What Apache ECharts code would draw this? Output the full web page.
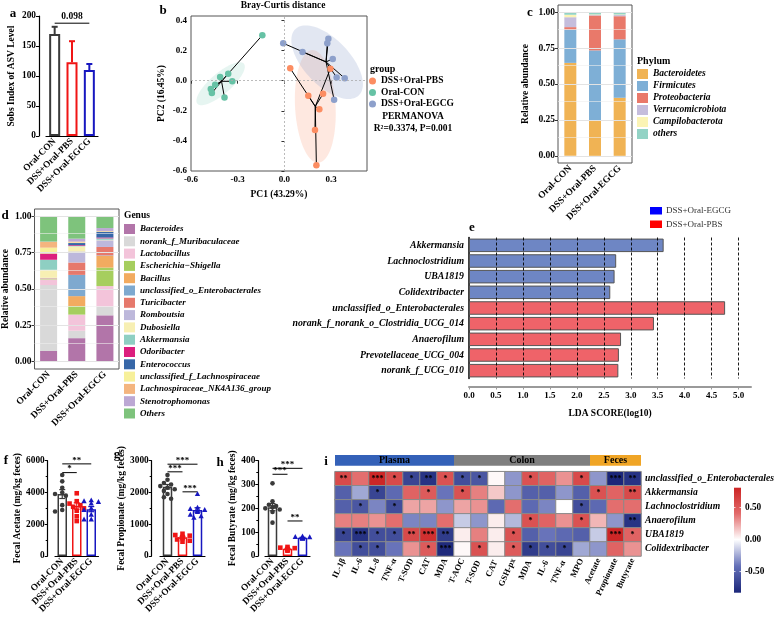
<!DOCTYPE html>
<html><head><meta charset="utf-8">
<script src="https://cdn.jsdelivr.net/npm/echarts@6.0.0/dist/echarts.min.js"></script>
<style>html,body{margin:0;padding:0;background:#fff;}#chart{width:780px;height:622px;}</style>
</head><body><div id="chart"></div>
<script>
// ================= DATA =================
const groupNames = ['Oral-CON','DSS+Oral-PBS','DSS+Oral-EGCG'];
// (a) Sobs index
const sobsMean = [170, 123, 110];
const sobsSem = [12, 35, 10];
const sobsSig = [[0, 2, 188, '0.098']];
// (b) PCoA
const pcoaPBS = [[0.037,0.082],[0.295,0.080],[0.153,-0.100],[0.248,-0.087],[0.224,-0.189],[0.196,-0.327],[0.205,-0.562]];
const pcoaCON = [[-0.142,0.302],[-0.413,0.025],[-0.361,0.047],[-0.335,-0.004],[-0.445,-0.027],[-0.473,-0.055],[-0.466,-0.082],[-0.385,-0.111]];
const pcoaEGCG = [[-0.008,0.249],[0.116,0.191],[0.282,0.278],[0.275,0.249],[0.310,0.145],[0.335,0.022],[0.387,0.016],[0.319,-0.127]];
const pcoaCentroids = [[0.198,-0.171],[-0.404,-0.004],[0.267,0.125]];
const ellipseCenter = [[0.198,-0.171],[-0.41,-0.02],[0.274,0.123]];
const ellipseAxes = [[0.375,0.13],[0.20,0.068],[0.30,0.15]];
const ellipseAngle = [93, 42, -48];
const pcoaXTicks = [-0.6,-0.3,0,0.3];
const pcoaYTicks = [-0.6,-0.4,-0.2,0,0.2,0.4];
// (c) Phylum
const phylumNames = ['Bacteroidetes','Firmicutes','Proteobacteria','Verrucomicrobiota','Campilobacterota','others'];
const phylumBacteroidetes = [0.647, 0.249, 0.404];
const phylumFirmicutes = [0.231, 0.485, 0.407];
const phylumProteobacteria = [0.018, 0.243, 0.161];
const phylumVerruco = [0.069, 0.003, 0.008];
const phylumCampilo = [0.017, 0.004, 0.004];
const phylumOthers = [0.018, 0.016, 0.016];
const abundTicks = [0, 0.25, 0.5, 0.75, 1];
const abundGrid = [0, 0.125, 0.25, 0.375, 0.5, 0.625, 0.75, 0.875, 1];
// (d) Genus
const genusNames = ['Bacteroides','norank_f_Muribaculaceae','Lactobacillus','Escherichia\u2212Shigella','Bacillus','unclassified_o_Enterobacterales','Turicibacter','Romboutsia','Dubosiella','Akkermansia','Odoribacter','Enterococcus','unclassified_f_Lachnospiraceae','Lachnospiraceae_NK4A136_group','Stenotrophomonas','Others'];
const gBacteroides = [0.074, 0.162, 0.319];
const gMuribaculaceae = [0.453, 0.051, 0.060];
const gLactobacillus = [0.039, 0.111, 0.141];
const gEscherichia = [0.003, 0.058, 0.127];
const gBacillus = [0.003, 0.069, 0.081];
const gEnterobacterales = [0.001, 0.146, 0.003];
const gTuricibacter = [0.001, 0.085, 0.058];
const gRomboutsia = [0.003, 0.076, 0.046];
const gDubosiella = [0.055, 0.035, 0.003];
const gAkkermansia = [0.069, 0.003, 0.010];
const gOdoribacter = [0.042, 0.005, 0.006];
const gEnterococcus = [0.001, 0.015, 0.039];
const gLachnoUncl = [0.040, 0.005, 0.003];
const gNK4A136 = [0.040, 0.005, 0.003];
const gStenotrophomonas = [0.002, 0.020, 0.020];
const gOthers = [0.174, 0.155, 0.081];
// (e) LEfSe
const lefseTaxa = ['Akkermansia','Lachnoclostridium','UBA1819','Colidextribacter','unclassified_o_Enterobacterales','norank_f_norank_o_Clostridia_UCG_014','Anaerofilum','Prevotellaceae_UCG_004','norank_f_UCG_010'];
const lefseScore = [3.61, 2.73, 2.70, 2.62, 4.75, 3.43, 2.82, 2.78, 2.77];
const lefseGroup = ['EGCG','EGCG','EGCG','EGCG','PBS','PBS','PBS','PBS','PBS'];
const lefseTicks = [0,0.5,1,1.5,2,2.5,3,3.5,4,4.5,5];
// (f) acetate
const acetateCON = [5100,4700,4300,4000,3900,3800,3200,2900,2800];
const acetatePBS = [3950,3450,3300,3200,3100,3000,2850,2500,2200];
const acetateEGCG = [3500,3450,3400,3300,3000,2900,2600,2300,2300];
const acetateMean = [3900, 3150, 2950];
const acetateSem = [280, 200, 160];
const acetateSig = [[0,1,5250,'*'],[0,2,5800,'**']];
// (g) propionate
const propCON = [2550,2400,2300,2250,2200,2150,2100,2050,1950,1850,1800];
const propPBS = [700,660,640,600,580,560,520,480,450];
const propEGCG = [1950,1520,1480,1450,1420,1380,1300,1250,1200];
const propMean = [2180, 590, 1450];
const propSem = [70, 30, 70];
const propSig = [[0,1,2650,'***'],[0,2,2890,'***'],[1,2,2020,'***']];
// (h) butyrate
const butCON = [305,230,215,210,205,200,195,185,140];
const butPBS = [38,35,33,30,28,26,25,22];
const butEGCG = [82,80,79,78,76,75,73,72];
const butMean = [205, 30, 77];
const butSem = [15, 2, 1.5];
const butSig = [[0,1,343,'***'],[0,2,368,'***'],[1,2,147,'**']];
// (i) correlation heatmap
const heatCols = ['IL-1\u03b2','IL-6','IL-8','TNF-\u03b1','T-SOD','CAT','MDA','T-AOC','T-SOD ','CAT ','GSH-px','MDA ','IL-6 ','TNF-\u03b1 ','MPO','Acetate','Propionate','Butyrate'];
const heatRows = ['unclassified_o_Enterobacterales','Akkermansia','Lachnoclostridium','Anaerofilum','UBA1819','Colidextribacter'];
const heatValues = [
 [0.6,0.4,0.8,0.6,-0.65,-0.75,0.55,-0.6,-0.55,0.02,-0.3,0.55,0.45,0.3,0.6,-0.3,-0.85,-0.75],
 [-0.5,-0.25,-0.65,-0.45,0.45,0.5,-0.4,0.55,0.35,0.15,-0.3,-0.5,-0.5,-0.3,-0.5,0.55,0.45,0.6],
 [-0.5,-0.55,-0.35,-0.6,0.25,0.25,-0.3,0.25,0.3,-0.45,0.4,-0.45,-0.35,0.0,-0.6,-0.45,0.4,0.4],
 [0.35,0.35,0.3,0.4,-0.35,-0.35,0.4,-0.15,-0.3,0.05,-0.2,0.55,0.45,0.3,0.55,0.2,-0.3,-0.75],
 [-0.65,-0.75,-0.6,-0.6,0.6,0.75,-0.7,0.05,0.35,0.05,0.55,-0.5,-0.4,-0.45,-0.5,-0.15,0.8,0.45],
 [-0.4,-0.6,-0.6,-0.4,0.3,0.5,-0.8,0.02,0.55,0.05,0.5,-0.7,-0.6,-0.65,-0.25,-0.3,0.45,0.3]
];
const heatStars = [
 ['**','','***','*','*','**','*','*','*','','','*','','','*','','***','**'],
 ['','','*','','','*','','*','','','','','','','','*','','**'],
 ['','*','','*','','','','','','','','','','','*','','',''],
 ['','','','','','','','','','','','*','','','*','','','**'],
 ['*','***','*','*','**','***','**','','','','*','','','','','','***','*'],
 ['','*','*','','','*','***','','*','','*','*','*','*','','','','']
];
const headerNames = ['Plasma','Colon','Feces'];
const headerSpan = [7, 8, 3];
const colorbarTicks = [-0.5, 0, 0.5];

// ================= STYLE =================
const FF = '"Liberation Serif","Times New Roman",serif';
function T(size, extra){ return Object.assign({fontFamily:FF, fontWeight:'bold', fontSize:size, color:'#000'}, extra||{}); }
const grpColor = ['#3a3a3a', '#F01515', '#1717C0'];
const grpShape = ['circle', 'rect', 'triangle'];
const pcoaColors = ['#FC8D62', '#66C2A5', '#8DA0CB'];
const ellipseFill = ['rgba(252,141,98,0.20)', 'rgba(102,194,165,0.16)', 'rgba(141,160,203,0.25)'];
const phylumColors = ['#F0B354','#7EAFD6','#E9796A','#C5BDDC','#FBF4B5','#93D3C5'];
const genusColors = ['#B275A9','#D9D9D9','#F3C4DA','#A6CE5E','#F2AB60','#7EA9CF','#E6796C','#BDB8DB','#F7EFB3','#8ECFC2','#DC1F7E','#3767A8','#F7F09A','#F4B57F','#BCA8D4','#7EC37C'];
const heatColors = ['#1b2679','#6470b8','#ffffff','#e26a6a','#cc2424'];
const headerColors = ['#3461B8','#7f7f7f','#F0A526'];

// ================= GRIDS =================
const grids = [
 {left:46, top:16, width:52, height:120},                                      //0 a
 {left:191, top:16, width:176, height:155, show:true, borderColor:'#555', borderWidth:1}, //1 b
 {left:558, top:5, width:74, height:158, show:true, borderColor:'#555', borderWidth:1},   //2 c
 {left:32, top:209, width:87, height:160, show:true, borderColor:'#555', borderWidth:1},  //3 d
 {left:469, top:237.5, width:282, height:141},                                  //4 e
 {left:55, top:460.7, width:43.5, height:95.3},                                 //5 f
 {left:160, top:460.7, width:45, height:95.3},                                  //6 g
 {left:265, top:460.7, width:45, height:95.3},                                  //7 h
 {left:335, top:471.7, width:306, height:84.3},                                 //8 i heat
 {left:335, top:455, width:306, height:10.7},                                   //9 i header
 {left:734, top:487.7, width:7, height:105}                                     //10 colorbar
];

function prismX(gi){
  return {type:'category', gridIndex:gi, data:groupNames,
    axisLine:{lineStyle:{color:'#000', width:1.2}},
    axisTick:{alignWithLabel:true, length:3, lineStyle:{color:'#000'}},
    axisLabel:Object.assign({interval:0, rotate:45, margin:4}, T(9.3))};
}
function prismY(gi, max, interval, name, nameGap, offset, minor){
  return {type:'value', gridIndex:gi, min:0, max, interval, offset, name, nameLocation:'middle', nameGap,
    nameTextStyle:T(9.5),
    axisLine:{show:true, lineStyle:{color:'#000', width:1.2}},
    axisTick:{show:true, length:3, lineStyle:{color:'#000'}},
    minorTick:{show:minor, splitNumber:2, length:2, lineStyle:{color:'#000'}},
    axisLabel:Object.assign({margin:3, formatter:v=>String(v)}, T(9.3)), splitLine:{show:false}};
}
function ggX(gi){
  return {type:'category', gridIndex:gi, data:groupNames,
    axisLine:{show:false}, axisTick:{alignWithLabel:true, length:3, lineStyle:{color:'#333'}},
    axisLabel:Object.assign({interval:0, rotate:45, margin:4}, T(9.5))};
}
function ggY(gi, nameGap){
  return {type:'value', gridIndex:gi, min:-0.05, max:1.05, name:'Relative abundance', nameLocation:'middle', nameGap,
    nameTextStyle:T(9.5), axisLine:{show:false},
    axisTick:{show:true, length:3, customValues:abundTicks, lineStyle:{color:'#333'}},
    axisLabel:Object.assign({margin:3, customValues:abundTicks, formatter:v=>v.toFixed(2)}, T(9.5)),
    splitLine:{show:false}};
}

const xAxes = [
  prismX(0),
  {type:'value', gridIndex:1, min:-0.6, max:0.53, name:'PC1 (43.29%)', nameLocation:'middle', nameGap:19, nameTextStyle:T(9.5),
    axisLine:{show:false}, axisTick:{show:true, length:3, customValues:pcoaXTicks, lineStyle:{color:'#333'}},
    axisLabel:Object.assign({margin:4, customValues:pcoaXTicks, formatter:v=>v.toFixed(1)}, T(9)), splitLine:{show:false}},
  ggX(2),
  ggX(3),
  {type:'value', gridIndex:4, min:0, max:5.23, offset:8, name:'LDA SCORE(log10)', nameLocation:'middle', nameGap:22, nameTextStyle:T(9.5),
    axisLine:{show:true, lineStyle:{color:'#9a9a9a', width:2}},
    axisTick:{show:true, length:3, customValues:lefseTicks, lineStyle:{color:'#9a9a9a'}},
    axisLabel:Object.assign({margin:5, customValues:lefseTicks, formatter:v=>v.toFixed(1)}, T(9)), splitLine:{show:false}},
  prismX(5), prismX(6), prismX(7),
  {type:'category', gridIndex:8, data:heatCols, axisLine:{show:false}, axisTick:{show:false},
    axisLabel:Object.assign({interval:0, rotate:65, margin:3}, T(8.5)), splitArea:{show:false}},
  {type:'value', gridIndex:9, min:0, max:18, show:false},
  {type:'value', gridIndex:10, min:0, max:1, show:false}
];
const yAxes = [
  prismY(0, 200, 50, 'Sobs Index of ASV Level', 22, 7, false),
  {type:'value', gridIndex:1, min:-0.6, max:0.43, name:'PC2 (16.45%)', nameLocation:'middle', nameGap:24, nameTextStyle:T(9.5),
    axisLine:{show:false}, axisTick:{show:true, length:3, customValues:pcoaYTicks, lineStyle:{color:'#333'}},
    axisLabel:Object.assign({margin:4, customValues:pcoaYTicks, formatter:v=>v.toFixed(1)}, T(9)), splitLine:{show:false}},
  ggY(2, 27),
  ggY(3, 20),
  {type:'category', gridIndex:4, data:lefseTaxa, inverse:true,
    axisLine:{show:true, lineStyle:{color:'#000', width:1.5}}, axisTick:{show:false},
    axisLabel:Object.assign({margin:5, interval:0}, T(9.8, {fontStyle:'italic'}))},
  prismY(5, 6000, 2000, 'Fecal Acetate (mg/kg feces)', 24, 7.3, true),
  prismY(6, 3000, 1000, 'Fecal Propionate (mg/kg feces)', 19, 8.3, true),
  prismY(7, 400, 100, 'Fecal Butyrate (mg/kg feces)', 15, 6.7, true),
  {type:'category', gridIndex:8, data:heatRows, inverse:true, position:'right',
    axisLine:{show:false}, axisTick:{show:false},
    axisLabel:Object.assign({margin:4, interval:0}, T(9.6, {fontStyle:'italic'}))},
  {type:'value', gridIndex:9, min:0, max:1, show:false},
  {type:'value', gridIndex:10, min:-0.83, max:0.81, position:'right', axisLine:{show:false}, axisTick:{show:false},
    splitLine:{show:false},
    axisLabel:Object.assign({margin:4, customValues:colorbarTicks, formatter:v=>v.toFixed(2)}, T(9.3))}
];

// ================= SERIES =================
const series = [];

function errorSeries(gi, means, sems, upperOnly, lw){
  return {type:'custom', xAxisIndex:gi, yAxisIndex:gi, z:4, silent:true,
    data: means.map((m,i)=>[i, m, sems[i]]),
    renderItem(params, api){
      const i = api.value(0), m = api.value(1), s = api.value(2);
      const c = grpColor[params.dataIndex];
      const top = api.coord([i, m+s]), bot = api.coord([i, upperOnly ? m : m-s]);
      const w = 3;
      const ch = [
        {type:'line', shape:{x1:top[0], y1:top[1], x2:bot[0], y2:bot[1]}, style:{stroke:c, lineWidth:lw}},
        {type:'line', shape:{x1:top[0]-w, y1:top[1], x2:top[0]+w, y2:top[1]}, style:{stroke:c, lineWidth:lw}}
      ];
      if(!upperOnly) ch.push({type:'line', shape:{x1:bot[0]-w, y1:bot[1], x2:bot[0]+w, y2:bot[1]}, style:{stroke:c, lineWidth:lw}});
      return {type:'group', children:ch};
    }};
}
function sigSeries(gi, sig, size){
  return {type:'custom', xAxisIndex:gi, yAxisIndex:gi, z:4, silent:true,
    data: sig.map(s=>[s[0], s[2]]),
    renderItem(params, api){
      const s = sig[params.dataIndex];
      const p1 = api.coord([s[0], s[2]]), p2 = api.coord([s[1], s[2]]);
      const star = s[3].indexOf('*') >= 0;
      return {type:'group', children:[
        {type:'line', shape:{x1:p1[0], y1:p1[1], x2:p2[0], y2:p2[1]}, style:{stroke:'#000', lineWidth:1}},
        {type:'text', x:(p1[0]+p2[0])/2, y: star ? p1[1]+1 : p1[1]-1.5,
          style:{text:s[3], align:'center', verticalAlign:'bottom', font:`bold ${size}px ${FF}`, fill:'#000'}}
      ]};
    }};
}
function markShape(shape, x, y, r, color){
  if(shape==='circle') return {type:'circle', shape:{cx:x, cy:y, r:r}, style:{fill:color}};
  if(shape==='rect') return {type:'rect', shape:{x:x-r, y:y-r, width:2*r, height:2*r}, style:{fill:color}};
  return {type:'polygon', shape:{points:[[x, y-r*1.25],[x-r*1.15, y+r*0.85],[x+r*1.15, y+r*0.85]]}, style:{fill:color}};
}
function swarmSeries(gi, cat, vals){
  return {type:'custom', xAxisIndex:gi, yAxisIndex:gi, z:5, silent:true,
    data:[[cat, vals[0]]],
    renderItem(params, api){
      const cx = api.coord([cat, 0])[0];
      const r = 2.3, step = 3.6;
      const placed = [], ch = [];
      vals.slice().sort((a,b)=>b-a).forEach(v=>{
        const y = api.coord([cat, v])[1];
        const offs = [0,-step,step,-2*step,2*step,-0.5*step,0.5*step,-1.5*step,1.5*step];
        let x = cx;
        for(const o of offs){ const xx = cx+o; if(placed.every(p=>Math.hypot(p[0]-xx, p[1]-y) >= 2*r)){ x = xx; break; } }
        placed.push([x, y]);
        ch.push(markShape(grpShape[cat], x, y, r, grpColor[cat]));
      });
      return {type:'group', children:ch};
    }};
}
function prismBars(gi, means, bw, lw){
  return {type:'bar', xAxisIndex:gi, yAxisIndex:gi, barWidth:bw, z:2, silent:true,
    data: means.map((m,i)=>({value:m, itemStyle:{color:'#fff', borderColor:grpColor[i], borderWidth:lw}}))};
}

// a
series.push(prismBars(0, sobsMean, 11, 2));
series.push(errorSeries(0, sobsMean, sobsSem, true, 2));
series.push(sigSeries(0, sobsSig, 9.5));

// b
series.push({type:'line', xAxisIndex:1, yAxisIndex:1, data:[], silent:true, z:0,
  markLine:{silent:true, symbol:['none','none'], label:{show:false}, animation:false,
    lineStyle:{color:'#aaa', type:[2,2], width:0.8}, data:[{xAxis:0},{yAxis:0}]}});
ellipseCenter.forEach((c, k)=>{
  series.push({type:'custom', xAxisIndex:1, yAxisIndex:1, z:1, silent:true, clip:true, data:[c],
    renderItem(params, api){
      const ax = ellipseAxes[k], ang = ellipseAngle[k]*Math.PI/180, pts = [];
      for(let j=0;j<=90;j++){
        const t = j/90*2*Math.PI, ex = ax[0]*Math.cos(t), ey = ax[1]*Math.sin(t);
        pts.push(api.coord([c[0]+ex*Math.cos(ang)-ey*Math.sin(ang), c[1]+ex*Math.sin(ang)+ey*Math.cos(ang)]));
      }
      return {type:'polygon', shape:{points:pts}, style:{fill:ellipseFill[k]}};
    }});
});
const pcoaSets = [pcoaPBS, pcoaCON, pcoaEGCG];
const pcoaNames = ['DSS+Oral-PBS','Oral-CON','DSS+Oral-EGCG'];
pcoaSets.forEach((pts, k)=>{
  series.push({type:'custom', xAxisIndex:1, yAxisIndex:1, z:2, silent:true, data:pts,
    renderItem(params, api){
      const p = api.coord([api.value(0), api.value(1)]), c = api.coord(pcoaCentroids[k]);
      return {type:'line', shape:{x1:c[0], y1:c[1], x2:p[0], y2:p[1]}, style:{stroke:'#000', lineWidth:1}};
    }});
});
pcoaSets.forEach((pts, k)=>{
  series.push({type:'scatter', name:pcoaNames[k], xAxisIndex:1, yAxisIndex:1, z:3, data:pts,
    symbolSize:6.5, itemStyle:{color:pcoaColors[k], opacity:1}});
});

// c
series.push({type:'line', xAxisIndex:2, yAxisIndex:2, data:[], silent:true, z:0,
  markLine:{silent:true, symbol:['none','none'], label:{show:false}, animation:false,
    data: abundGrid.map((v,i)=>({yAxis:v, lineStyle:{color: i%2===0 ? '#e3e3e3' : '#efefef', width: i%2===0 ? 1 : 0.6, type:'solid'}}))}});
const phylumData = [phylumBacteroidetes, phylumFirmicutes, phylumProteobacteria, phylumVerruco, phylumCampilo, phylumOthers];
phylumNames.forEach((n, k)=>{
  series.push({type:'bar', name:n, stack:'phylum', xAxisIndex:2, yAxisIndex:2, barWidth:12, z:2,
    data:phylumData[k], itemStyle:{color:phylumColors[k]}});
});

// d
series.push({type:'line', xAxisIndex:3, yAxisIndex:3, data:[], silent:true, z:0,
  markLine:{silent:true, symbol:['none','none'], label:{show:false}, animation:false,
    data: abundGrid.map((v,i)=>({yAxis:v, lineStyle:{color: i%2===0 ? '#e3e3e3' : '#efefef', width: i%2===0 ? 1 : 0.6, type:'solid'}}))}});
const genusData = [gBacteroides,gMuribaculaceae,gLactobacillus,gEscherichia,gBacillus,gEnterobacterales,gTuricibacter,gRomboutsia,gDubosiella,gAkkermansia,gOdoribacter,gEnterococcus,gLachnoUncl,gNK4A136,gStenotrophomonas,gOthers];
genusNames.forEach((n, k)=>{
  series.push({type:'bar', name:n, stack:'genus', xAxisIndex:3, yAxisIndex:3, barWidth:17, z:2,
    data:genusData[k], itemStyle:{color:genusColors[k]}});
});

// e
series.push({type:'line', xAxisIndex:4, yAxisIndex:4, data:[], silent:true, z:0,
  markLine:{silent:true, symbol:['none','none'], label:{show:false}, animation:false,
    lineStyle:{color:'#000', type:[3,2], width:0.9}, data: lefseTicks.filter(v=>v>0).map(v=>({xAxis:v}))}});
series.push({type:'bar', xAxisIndex:4, yAxisIndex:4, barWidth:13.5, z:2, silent:true,
  data: lefseScore.map((v,i)=>({value:v, itemStyle:{color: lefseGroup[i]==='EGCG' ? '#6E86C4' : '#EF6369', borderColor:'#555', borderWidth:1}}))});

// f, g, h
const fgh = [
  {gi:5, mean:acetateMean, sem:acetateSem, pts:[acetateCON,acetatePBS,acetateEGCG], sig:acetateSig},
  {gi:6, mean:propMean, sem:propSem, pts:[propCON,propPBS,propEGCG], sig:propSig},
  {gi:7, mean:butMean, sem:butSem, pts:[butCON,butPBS,butEGCG], sig:butSig}
];
fgh.forEach(p=>{
  series.push(prismBars(p.gi, p.mean, 9.5, 1.5));
  p.pts.forEach((v, k)=> series.push(swarmSeries(p.gi, k, v)));
  series.push(errorSeries(p.gi, p.mean, p.sem, false, 1.2));
  series.push(sigSeries(p.gi, p.sig, 9));
});

// i heatmap
const heatData = [];
heatValues.forEach((row, r)=> row.forEach((v, c)=> heatData.push([c, r, v])));
const heatIndex = series.length;
series.push({type:'heatmap', xAxisIndex:8, yAxisIndex:8, data:heatData, silent:true,
  itemStyle:{borderColor:'#8a8a8a', borderWidth:1},
  label:{show:true, formatter:p=>heatStars[p.data[1]][p.data[0]], fontFamily:FF, fontWeight:'bold', fontSize:8, color:'#000'}});
series.push({type:'custom', xAxisIndex:9, yAxisIndex:9, silent:true, data:headerNames.map((n,i)=>[i, 0]),
  renderItem(params, api){
    const i = params.dataIndex;
    const s = headerSpan.slice(0, i).reduce((a,b)=>a+b, 0), e = s + headerSpan[i];
    const p0 = api.coord([s, 1]), p1 = api.coord([e, 0]);
    return {type:'group', children:[
      {type:'rect', shape:{x:p0[0], y:p0[1], width:p1[0]-p0[0], height:p1[1]-p0[1]}, style:{fill:headerColors[i]}},
      {type:'text', x:(p0[0]+p1[0])/2, y:(p0[1]+p1[1])/2+0.5, style:{text:headerNames[i], align:'center', verticalAlign:'middle', font:`bold 10px ${FF}`, fill:'#000'}}
    ]};
  }});
series.push({type:'custom', xAxisIndex:10, yAxisIndex:10, silent:true, data:[[0, 0]],
  renderItem(params, api){
    const p0 = api.coord([0, 0.81]), p1 = api.coord([1, -0.83]);
    const zeroOff = 0.81/1.64;
    const fill = new echarts.graphic.LinearGradient(0, 0, 0, 1, [
      {offset:0, color:heatColors[4]}, {offset:zeroOff/2, color:heatColors[3]}, {offset:zeroOff, color:heatColors[2]},
      {offset:(1+zeroOff)/2, color:heatColors[1]}, {offset:1, color:heatColors[0]}]);
    const ch = [{type:'rect', shape:{x:p0[0], y:p0[1], width:p1[0]-p0[0], height:p1[1]-p0[1]}, style:{fill}}];
    colorbarTicks.forEach(v=>{ const y = api.coord([0, v])[1];
      ch.push({type:'line', shape:{x1:p0[0], y1:y, x2:p0[0]+1.5, y2:y}, style:{stroke:'#fff', lineWidth:0.8}});
      ch.push({type:'line', shape:{x1:p1[0]-1.5, y1:y, x2:p1[0], y2:y}, style:{stroke:'#fff', lineWidth:0.8}}); });
    return {type:'group', children:ch};
  }});

// ================= GRAPHIC TEXT =================
const graphic = [];
function txt(x, y, s, size, extra){
  graphic.push({type:'text', x, y, silent:true, style:Object.assign({text:s, font:`bold ${size}px ${FF}`, fill:'#000', align:'left', verticalAlign:'middle'}, extra||{})});
}
txt(13, 14, 'a', 13, {align:'center'});
txt(163, 11, 'b', 13, {align:'center'});
txt(530, 13, 'c', 13, {align:'center'});
txt(5, 216, 'd', 13, {align:'center'});
txt(472, 228, 'e', 13, {align:'center'});
txt(6, 461, 'f', 13, {align:'center'});
txt(117, 455, 'g', 13, {align:'center'});
txt(220, 463, 'h', 13, {align:'center'});
txt(326, 462, 'i', 13, {align:'center'});
txt(283, 6, 'Bray-Curtis distance', 9.5, {align:'center'});
txt(370, 69, 'group', 10);
txt(413, 117, 'PERMANOVA', 9.5, {align:'center'});
txt(413, 128.5, 'R\u00b2=0.3374, P=0.001', 9.5, {align:'center'});
txt(637, 61, 'Phylum', 10);
txt(124, 216, 'Genus', 9.5);
graphic.push({type:'rect', silent:true, shape:{x:650, y:207, width:12, height:7.5}, style:{fill:'#0000FF'}});
graphic.push({type:'rect', silent:true, shape:{x:650, y:220.5, width:12, height:7.5}, style:{fill:'#FF0000'}});
txt(666, 210.7, 'DSS+Oral-EGCG', 9, {font:`${9}px ${FF}`, fill:'#333'});
txt(666, 224.3, 'DSS+Oral-PBS', 9, {font:`${9}px ${FF}`, fill:'#333'});

// ================= OPTION =================
const option = {
  animation:false,
  backgroundColor:'#fff',
  textStyle:{fontFamily:FF},
  grid:grids, xAxis:xAxes, yAxis:yAxes, series, graphic,
  visualMap:{type:'continuous', show:false, min:-0.82, max:0.82, seriesIndex:heatIndex, dimension:2, inRange:{color:heatColors}},
  legend:[
    {data:pcoaNames, orient:'vertical', left:369, top:76, padding:0, icon:'circle', itemWidth:7, itemHeight:7, itemGap:1.5, selectedMode:false,
      textStyle:T(9.5, {lineHeight:10})},
    {data:phylumNames, orient:'vertical', left:637, top:69, padding:0, icon:'rect', itemWidth:11, itemHeight:10, itemGap:2, selectedMode:false,
      textStyle:T(9.5, {fontStyle:'italic', lineHeight:10})},
    {data:genusNames, orient:'vertical', left:124, top:224, padding:0, icon:'rect', itemWidth:11, itemHeight:10, itemGap:2.3, selectedMode:false,
      textStyle:T(9, {fontStyle:'italic', lineHeight:10})}
  ]
};
const chart = echarts.init(document.getElementById('chart'), null, {renderer:'canvas'});
chart.setOption(option);
</script>
</body></html>
